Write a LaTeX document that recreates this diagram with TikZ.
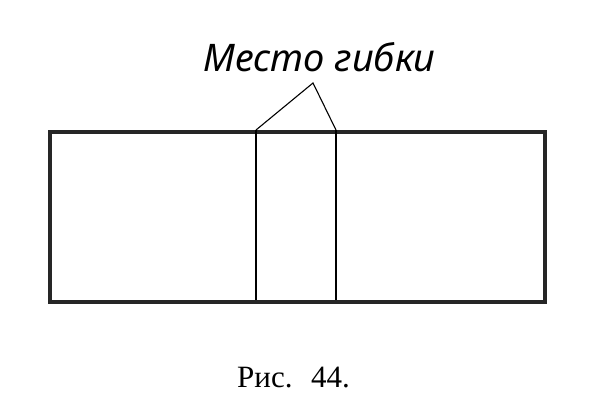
\documentclass[tikz,border=0pt]{standalone}
\usepackage{fontspec}
\setmainfont{Liberation Serif}
\newfontfamily\labelfont{Noto Sans}
\begin{document}
\begin{tikzpicture}[x=1pt,y=1pt,
  frame/.style={draw=black!85, line width=4pt},
  thin/.style={draw=black, line width=1.1pt},
  leader/.style={draw=black, line width=1.1pt}]
\useasboundingbox (0,0) rectangle (600,407);
\node[frame, minimum width=495pt, minimum height=170pt, inner sep=0pt, anchor=north west] (plate) at (48,277) {};
\coordinate (fa) at (256,277);
\coordinate (fb) at (336,277);
\coordinate (fa2) at (256,107);
\coordinate (fb2) at (336,107);
\draw[thin] (fa) -- (fa2);
\draw[thin] (fb) -- (fb2);
\node[font=\labelfont\itshape\fontsize{38}{42}\selectfont, inner sep=0pt, anchor=base west] (lbl) at (203,335) {Место гибки};
\coordinate (apex) at (313,324);
\draw[leader] (fa) -- (apex) -- (fb);
\node[font=\fontsize{31}{34}\selectfont, inner sep=0pt, anchor=base west] (cap) at (237,19) {Рис.\hspace{0.6em}44.};
\end{tikzpicture}
\end{document}
